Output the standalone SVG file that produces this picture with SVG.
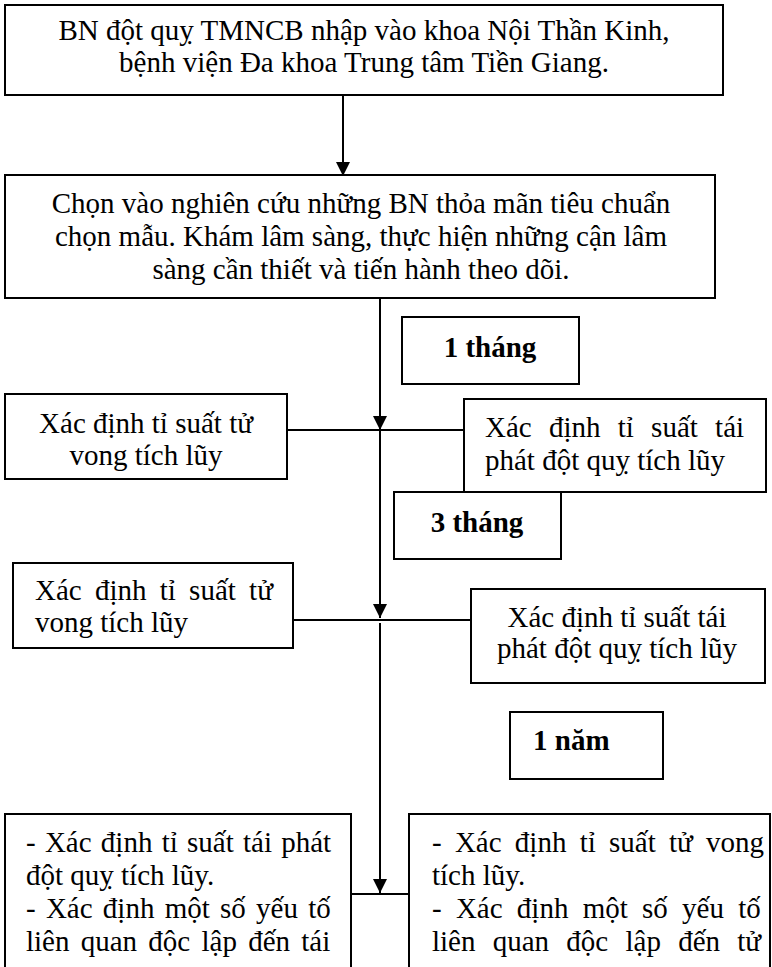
<svg xmlns="http://www.w3.org/2000/svg" width="772" height="967" viewBox="0 0 772 967">
<style>
  .box { fill: #ffffff; stroke: #000000; stroke-width: 2; }
  .t { font-family: "Liberation Serif", "Times New Roman", serif; font-size: 29px; fill: #000000; }
  .c { text-anchor: middle; }
  .b { font-weight: bold; }
  .ln { stroke: #000000; stroke-width: 2; fill: none; }
</style>
<defs>
  <marker id="ah" markerUnits="userSpaceOnUse" markerWidth="16" markerHeight="16" refX="14" refY="7" orient="auto">
    <path d="M0,0 L14,7 L0,14 Z" fill="#000000"/>
  </marker>
</defs>
<rect width="772" height="967" fill="#ffffff"/>

<g id="connectors">
  <line class="ln" x1="343" y1="95" x2="343" y2="176" marker-end="url(#ah)"/>
  <line class="ln" x1="380" y1="298" x2="380" y2="430" marker-end="url(#ah)"/>
  <line class="ln" x1="380" y1="430" x2="380" y2="618" marker-end="url(#ah)"/>
  <line class="ln" x1="380" y1="623" x2="380" y2="893" marker-end="url(#ah)"/>
  <line class="ln" x1="287" y1="430" x2="464" y2="430"/>
  <line class="ln" x1="289" y1="620" x2="471" y2="620"/>
  <line class="ln" x1="351" y1="894" x2="409" y2="894"/>
</g>

<g id="n1">
  <rect class="box" x="5" y="5" width="718" height="90"/>
  <text class="t c" x="364" y="40">BN đột quỵ TMNCB nhập vào khoa Nội Thần Kinh,</text>
  <text class="t c" x="364" y="72">bệnh viện Đa khoa Trung tâm Tiền Giang.</text>
</g>

<g id="n2">
  <rect class="box" x="5" y="175" width="710" height="123"/>
  <text class="t c" x="361" y="213">Chọn vào nghiên cứu những BN thỏa mãn tiêu chuẩn</text>
  <text class="t c" x="361" y="246">chọn mẫu. Khám lâm sàng, thực hiện những cận lâm</text>
  <text class="t c" x="361" y="279">sàng cần thiết và tiến hành theo dõi.</text>
</g>

<g id="t1">
  <rect class="box" x="402" y="317" width="177" height="67"/>
  <text class="t c b" x="490" y="357">1 tháng</text>
</g>

<g id="l1">
  <rect class="box" x="5" y="394" width="282" height="85"/>
  <text class="t c" x="146" y="433">Xác định tỉ suất tử</text>
  <text class="t c" x="146" y="465">vong tích lũy</text>
</g>

<g id="r1">
  <rect class="box" x="464" y="399" width="302" height="93"/>
  <text class="t" x="485" y="437" word-spacing="10">Xác định tỉ suất tái</text>
  <text class="t" x="485" y="470">phát đột quỵ tích lũy</text>
</g>

<g id="t3">
  <rect class="box" x="394" y="492" width="167" height="67"/>
  <text class="t c b" x="477" y="532">3 tháng</text>
</g>

<g id="l2">
  <rect class="box" x="13" y="563" width="280" height="85"/>
  <text class="t" x="35" y="600" word-spacing="6">Xác định tỉ suất tử</text>
  <text class="t" x="35" y="632">vong tích lũy</text>
</g>

<g id="r2">
  <rect class="box" x="471" y="589" width="294" height="94"/>
  <text class="t c" x="617" y="627">Xác định tỉ suất tái</text>
  <text class="t c" x="617" y="658">phát đột quỵ tích lũy</text>
</g>

<g id="y1">
  <rect class="box" x="510" y="712" width="153" height="67"/>
  <text class="t b" x="533" y="750">1 năm</text>
</g>

<g id="bl">
  <rect class="box" x="5" y="814" width="346" height="200"/>
  <text class="t" x="26" y="852" word-spacing="2">- Xác định tỉ suất tái phát</text>
  <text class="t" x="26" y="885">đột quỵ tích lũy.</text>
  <text class="t" x="26" y="918" word-spacing="3">- Xác định một số yếu tố</text>
  <text class="t" x="26" y="951" word-spacing="4">liên quan độc lập đến tái</text>
</g>

<g id="br">
  <rect class="box" x="409" y="814" width="361" height="200"/>
  <text class="t" x="432" y="852" word-spacing="6">- Xác định tỉ suất tử vong</text>
  <text class="t" x="432" y="885">tích lũy.</text>
  <text class="t" x="432" y="918" word-spacing="7">- Xác định một số yếu tố</text>
  <text class="t" x="432" y="951" word-spacing="10">liên quan độc lập đến tử</text>
</g>
</svg>
